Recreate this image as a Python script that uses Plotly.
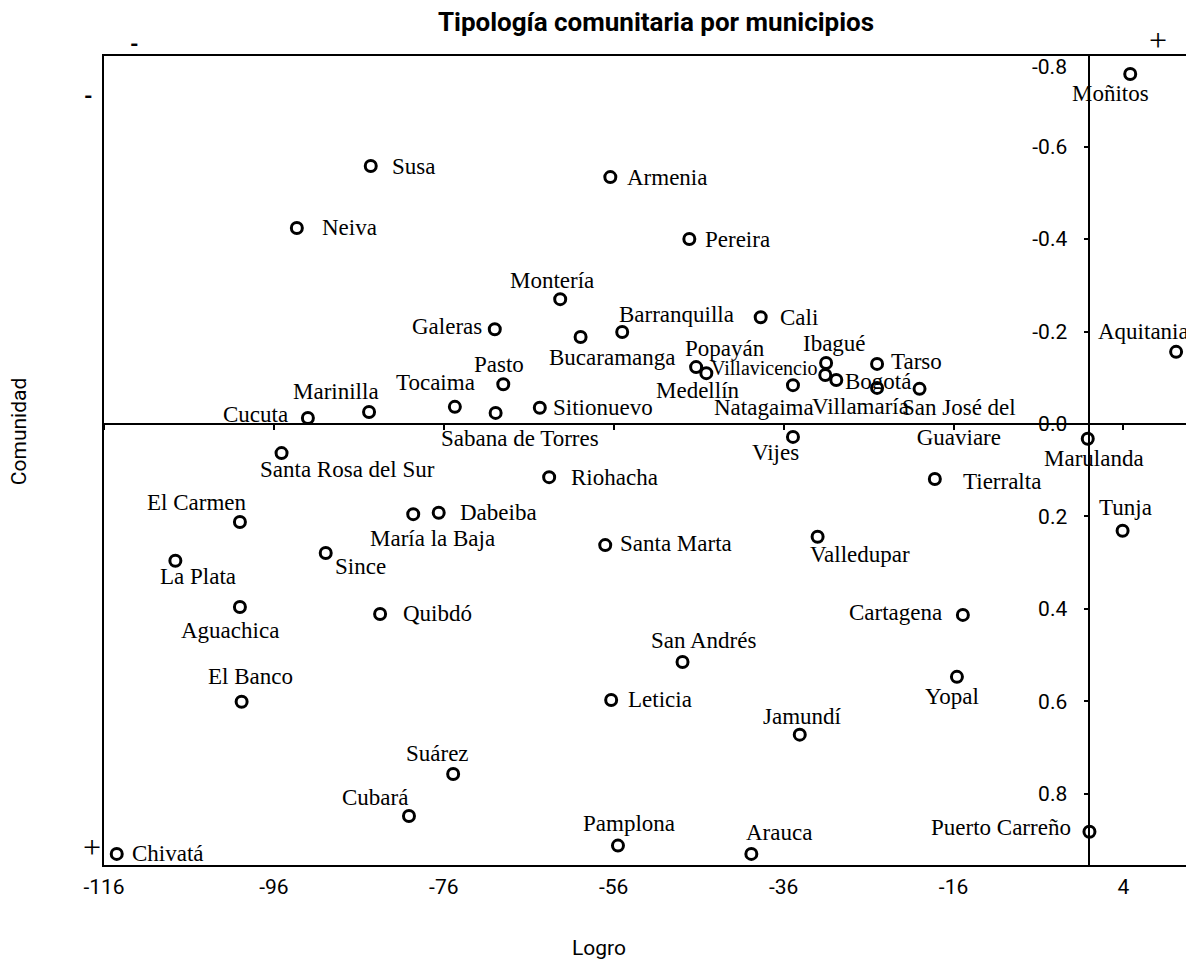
import plotly.graph_objects as go

# ---------------- data ----------------
municipios = [
    "Moñitos", "Susa", "Armenia", "Neiva", "Pereira", "Montería", "Galeras",
    "Bucaramanga", "Barranquilla", "Cali", "Popayán", "Medellín", "Natagaima",
    "Ibagué", "Villavicencio", "Bogotá", "Tarso", "Villamaría",
    "San José del Guaviare", "Aquitania", "Pasto", "Tocaima", "Marinilla",
    "Cucuta", "Sabana de Torres", "Sitionuevo", "Vijes", "Marulanda",
    "Santa Rosa del Sur", "Riohacha", "Tierralta", "El Carmen", "María la Baja",
    "Dabeiba", "Santa Marta", "Valledupar", "Tunja", "La Plata", "Since",
    "Aguachica", "Quibdó", "Cartagena", "San Andrés", "Yopal", "El Banco",
    "Leticia", "Jamundí", "Suárez", "Cubará", "Pamplona", "Arauca",
    "Puerto Carreño", "Chivatá",
]
logro = [
    4.8, -84.6, -56.4, -93.3, -47.1, -62.3, -70.0,
    -59.9, -55.0, -38.7, -46.3, -45.1, -34.9,
    -31.0, -31.1, -29.8, -25.0, -25.0,
    -20.0, 10.2, -69.0, -74.7, -84.8,
    -92.0, -69.9, -64.7, -34.9, -0.2,
    -95.1, -63.6, -18.2, -100.0, -79.6,
    -76.6, -57.0, -32.0, 3.9, -107.6, -89.9,
    -100.0, -83.5, -14.9, -47.9, -15.6, -99.8,
    -56.3, -34.1, -74.9, -80.1, -55.5, -39.8,
    0.0, -114.5,
]
comunidad = [
    -0.757, -0.558, -0.534, -0.424, -0.400, -0.270, -0.205,
    -0.188, -0.199, -0.231, -0.123, -0.110, -0.084,
    -0.132, -0.106, -0.095, -0.130, -0.078,
    -0.076, -0.156, -0.086, -0.037, -0.026,
    -0.013, -0.024, -0.035, 0.028, 0.032,
    0.063, 0.115, 0.119, 0.212, 0.195,
    0.192, 0.262, 0.244, 0.231, 0.296, 0.279,
    0.396, 0.411, 0.413, 0.515, 0.547, 0.601,
    0.597, 0.672, 0.757, 0.848, 0.912, 0.930,
    0.882, 0.930,
]
x_ticks = [-116, -96, -76, -56, -36, -16, 4]
x_tick_labels = ["-116", "-96", "-76", "-56", "-36", "-16", "4"]
y_ticks = [-0.6, -0.4, -0.2, 0.0, 0.2, 0.4, 0.6, 0.8]
y_tick_labels = ["-0.6", "-0.4", "-0.2", "0.0", "0.2", "0.4", "0.6", "0.8"]
y_top_label = "-0.8"

# ---------------- label placement (anchor, dx px, dy px downwards) ----------------
placement = {
    "Moñitos": ("center", -20, 19), "Susa": ("left", 19, 0),
    "Armenia": ("left", 15, 0), "Neiva": ("left", 23, 0),
    "Pereira": ("left", 14, 0), "Montería": ("center", -8, -19),
    "Galeras": ("right", -11, -3), "Bucaramanga": ("center", 31, 20),
    "Barranquilla": ("center", 54, -17), "Cali": ("left", 17, 0),
    "Popayán": ("center", 29, -19), "Medellín": ("center", -8, 17),
    "Natagaima": ("center", -29, 22), "Ibagué": ("center", 8, -19),
    "Villavicencio": ("right", -5, -7), "Bogotá": ("left", 7, 1),
    "Tarso": ("left", 12, -2), "Villamaría": ("center", -17, 19),
    "San José del Guaviare": ("center", 39, 34), "Aquitania": ("center", -33, -20),
    "Pasto": ("center", -4, -20), "Tocaima": ("center", -19, -24),
    "Marinilla": ("center", -33, -20), "Cucuta": ("right", -18, -3),
    "Sabana de Torres": ("center", 24, 26), "Sitionuevo": ("left", 11, 0),
    "Vijes": ("center", -17, 16), "Marulanda": ("center", 6, 20),
    "Santa Rosa del Sur": ("center", 66, 16), "Riohacha": ("left", 20, 0),
    "Tierralta": ("left", 26, 3), "El Carmen": ("center", -43, -19),
    "María la Baja": ("center", 19, 24), "Dabeiba": ("left", 19, 0),
    "Santa Marta": ("left", 13, -2), "Valledupar": ("center", 42, 18),
    "Tunja": ("center", 3, -23), "La Plata": ("center", 23, 16),
    "Since": ("center", 35, 14), "Aguachica": ("center", -10, 23),
    "Quibdó": ("left", 21, 0), "Cartagena": ("right", -19, -2),
    "San Andrés": ("center", 21, -22), "Yopal": ("center", -5, 20),
    "El Banco": ("center", 9, -25), "Leticia": ("left", 15, 0),
    "Jamundí": ("center", 3, -18), "Suárez": ("center", -16, -20),
    "Cubará": ("center", -34, -19), "Pamplona": ("center", 11, -22),
    "Arauca": ("center", 28, -21), "Puerto Carreño": ("right", -16, -4),
    "Chivatá": ("left", 13, 0),
}
display_text = {"San José del Guaviare": "San José del<br>Guaviare"}
label_size = {"Villavicencio": 20}

# page body has an 8px margin: draw in a slightly smaller figure
OFF = 8
W, H = 1194 - OFF, 961 - OFF
ML, MR, MT, MB = 104 - OFF, 4, 56 - OFF, 96
XR = [-116, 11.6]
YR = [0.954, -0.796]

SANS_N = "Roboto, Liberation Sans Narrow, sans-serif"
SERIF = "Liberation Serif, Times New Roman, serif"

fig = go.Figure()
fig.add_trace(go.Scatter(
    x=logro, y=comunidad, mode="markers", text=municipios,
    hovertemplate="%{text}<br>Logro: %{x}<br>Comunidad: %{y}<extra></extra>",
    marker=dict(symbol="circle-open", size=11, color="black", line=dict(width=3, color="black")),
    showlegend=False,
))
# helper traces so the crossing axes are drawn
fig.add_trace(go.Scatter(x=[None], y=[None], xaxis="x", yaxis="y2", showlegend=False, hoverinfo="skip"))
fig.add_trace(go.Scatter(x=[None], y=[None], xaxis="x2", yaxis="y", showlegend=False, hoverinfo="skip"))

for name, xv, yv in zip(municipios, logro, comunidad):
    anc, dx, dy = placement[name]
    fig.add_annotation(
        x=xv, y=yv, xref="x", yref="y", text=display_text.get(name, name),
        showarrow=False, xanchor=anc, yanchor="middle", xshift=dx, yshift=-dy,
        font=dict(family=SERIF, size=label_size.get(name, 23), color="black"), align="center",
    )

ypos = (0 - XR[0]) / (XR[1] - XR[0])
xpos = (YR[0] - 0) / (YR[0] - YR[1])

fig.update_layout(
    width=W, height=H,
    margin=dict(l=ML, r=MR, t=MT, b=MB),
    paper_bgcolor="white", plot_bgcolor="white",
    title=dict(text="<b>Tipología comunitaria por municipios</b>", xref="container", yref="container",
               x=(656 - OFF) / W, y=1 - (22 - OFF) / H, xanchor="center", yanchor="middle",
               font=dict(family=SANS_N, size=26, color="black")),
    xaxis=dict(range=XR, showline=True, mirror=True, linecolor="black", linewidth=1.5,
               showgrid=False, zeroline=True, zerolinecolor="black", zerolinewidth=2,
               tickvals=x_ticks, ticktext=x_tick_labels, ticks="", ticklabelstandoff=2,
               tickfont=dict(family=SANS_N, size=21, color="black")),
    xaxis2=dict(range=XR, overlaying="x", anchor="free", position=xpos, side="bottom",
                showline=False, showgrid=False, zeroline=False, tickvals=x_ticks,
                ticks="outside", ticklen=5, tickwidth=1.5, tickcolor="black", showticklabels=False),
    yaxis=dict(range=YR, showline=True, mirror=True, linecolor="black", linewidth=1.5,
               showgrid=False, zeroline=True, zerolinecolor="black", zerolinewidth=2,
               showticklabels=False, ticks=""),
    yaxis2=dict(range=YR, overlaying="y", anchor="free", position=ypos, side="left",
                showline=False, showgrid=False, zeroline=False,
                tickvals=y_ticks, ticktext=y_tick_labels, ticks="outside", ticklen=5,
                tickwidth=1.5, tickcolor="black", ticklabelstandoff=13,
                tickfont=dict(family=SANS_N, size=21, color="black")),
)

# top y label (-0.8) sits just inside the frame, beside the x = 0 line
fig.add_annotation(x=0, y=1, xref="x", yref="paper", text=y_top_label, showarrow=False,
                   xanchor="right", yanchor="middle", xshift=-20, yshift=-11,
                   font=dict(family=SANS_N, size=21, color="black"))

# axis titles and corner signs (reference pixel positions)
paper_notes = [
    ("Comunidad", 19, 432, SANS_N, 21, -90),
    ("Logro", 600, 948, SANS_N, 21, 0),
    ("<b>-</b>", 135, 45, SANS_N, 22, 0),
    ("<b>-</b>", 88, 97, SANS_N, 22, 0),
    ("+", 1160, 40, SERIF, 32, 0),
    ("+", 92, 847, SERIF, 32, 0),
]
for txt, px, py, fam, sz, ang in paper_notes:
    fx, fy = px - OFF, py - OFF
    fig.add_annotation(x=(fx - ML) / (W - ML - MR), y=(H - MB - fy) / (H - MT - MB),
                       xref="paper", yref="paper", text=txt, textangle=ang,
                       showarrow=False, xanchor="center", yanchor="middle",
                       font=dict(family=fam, size=sz, color="black"))

fig.write_html("out.html")
